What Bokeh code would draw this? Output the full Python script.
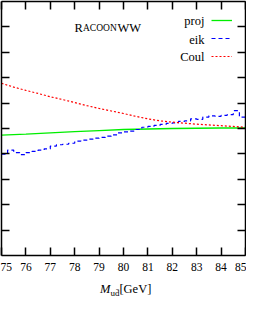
from bokeh.plotting import figure
from bokeh.layouts import column
from bokeh.models import (LinearAxis, FixedTicker, CustomJSTickFormatter, Legend,
                          LegendItem, Label, Div)
from bokeh.embed import file_html
from bokeh.resources import INLINE

# ---- data ----
x_ticks = [75, 76, 77, 78, 79, 80, 81, 82, 83, 84, 85]
y_ticks = [1, 2, 3, 4, 5, 6, 7, 8, 9]

mass_proj = [75, 76, 77, 78, 79, 80, 81, 82, 83, 84, 85]
proj = [4.74, 4.78, 4.83, 4.88, 4.92, 4.96, 4.98, 5.00, 5.01, 5.02, 5.02]

mass_coul = [75, 75.5, 76, 76.5, 77, 77.5, 78, 78.5, 79, 79.5, 80,
             80.5, 81, 81.5, 82, 82.5, 83, 83.5, 84, 84.5, 85]
coul = [6.78, 6.63, 6.50, 6.38, 6.25, 6.14, 6.02, 5.90, 5.79, 5.69, 5.59,
        5.48, 5.38, 5.30, 5.25, 5.21, 5.17, 5.14, 5.11, 5.08, 5.05]

mass_eik = [75.0, 75.25, 75.5, 75.75, 76.0, 76.25, 76.5, 76.75, 77.0, 77.25,
            77.5, 77.75, 78.0, 78.25, 78.5, 78.75, 79.0, 79.25, 79.5, 79.75,
            80.0, 80.25, 80.5, 80.75, 81.0, 81.25, 81.5, 81.75, 82.0, 82.25,
            82.5, 82.75, 83.0, 83.25, 83.5, 83.75, 84.0, 84.25, 84.5, 84.75, 85.0]
eik = [3.99, 4.15, 4.05, 3.97, 4.05, 4.10, 4.15, 4.20, 4.31, 4.36,
       4.38, 4.42, 4.50, 4.54, 4.58, 4.62, 4.65, 4.70, 4.75, 4.83,
       4.87, 4.90, 4.96, 5.05, 5.08, 5.12, 5.16, 5.20, 5.22, 5.28,
       5.30, 5.38, 5.36, 5.45, 5.50, 5.48, 5.52, 5.55, 5.70, 5.45, 5.45]

series_labels = ["proj", "eik", "Coul"]

SERIF = "Liberation Serif"

p = figure(width=246, height=276, x_range=(75, 85), y_range=(0, 10),
           output_backend="svg", toolbar_location=None,
           x_axis_location=None, y_axis_location=None,
           min_border_left=1, min_border_right=1, min_border_top=1,
           min_border_bottom=21)
p.outline_line_color = None
p.background_fill_color = "white"
p.border_fill_color = "white"
p.grid.visible = False

blank = CustomJSTickFormatter(code="return ''")


def make_axis(ticks, labels):
    ax = LinearAxis(ticker=FixedTicker(ticks=ticks),
                    major_tick_in=8, major_tick_out=0,
                    minor_tick_in=0, minor_tick_out=0,
                    axis_line_width=1.5, major_tick_line_width=1.5,
                    axis_line_color="black", major_tick_line_color="black")
    if labels:
        ax.major_label_text_font = SERIF
        ax.major_label_text_font_size = "11.5px"
        ax.major_label_text_color = "black"
        ax.major_label_standoff = 7
        ax.major_label_text_align = "right"
    else:
        ax.formatter = blank
        ax.major_label_text_font_size = "0px"
        ax.major_label_standoff = 0
    return ax


p.add_layout(make_axis(x_ticks, True), "below")
p.add_layout(make_axis(x_ticks, False), "above")
p.add_layout(make_axis(y_ticks, False), "left")
p.add_layout(make_axis(y_ticks, False), "right")

r_proj = p.line(mass_proj, proj, line_color="#00ee00", line_width=1.3)
r_eik = p.step(mass_eik, eik, mode="after", line_color="#0000ff",
               line_width=1.2, line_dash="4 3")
r_coul = p.line(mass_coul, coul, line_color="#ff0000", line_width=1.2,
                line_dash="2 2")

legend = Legend(items=[LegendItem(label=" ", renderers=[r_proj]),
                       LegendItem(label=" ", renderers=[r_eik]),
                       LegendItem(label=" ", renderers=[r_coul])],
                location=(210, 191), orientation="vertical",
                glyph_width=21, glyph_height=16, label_height=16,
                label_width=0, label_standoff=0, padding=0, spacing=2,
                margin=0, border_line_color=None, background_fill_alpha=0,
                label_text_font_size="6px")
p.add_layout(legend)

for txt, yy in zip(series_labels, [235, 216, 199]):
    p.add_layout(Label(x=203, y=yy, x_units="screen", y_units="screen", text=txt,
                       text_align="right", text_baseline="middle",
                       text_font=SERIF, text_font_size="12.5px",
                       text_color="black"))

# RacoonWW in small caps
for txt, xx, fs in [("R", 73, "12.5px"), ("ACOON", 81.5, "9.5px"), ("WW", 116, "12.5px")]:
    p.add_layout(Label(x=xx, y=228, x_units="screen", y_units="screen", text=txt,
                       text_align="left", text_baseline="alphabetic",
                       text_font=SERIF, text_font_size=fs, text_color="black"))

# x-axis title: M_{u d-bar} [GeV]
title_html = ('<i>M</i><span style="font-size:9px; position:relative; top:3px;">'
              'ud\u0304</span>[GeV]')
title = Div(text=title_html, width=246, height=17,
            styles={"font-family": SERIF, "font-size": "12.5px", "color": "black",
                    "line-height": "14px", "padding-left": "95px",
                    "padding-top": "1px", "white-space": "nowrap",
                    "box-sizing": "border-box"})

layout = column(p, title, spacing=0)
open("out.html", "w").write(file_html(layout, INLINE))
